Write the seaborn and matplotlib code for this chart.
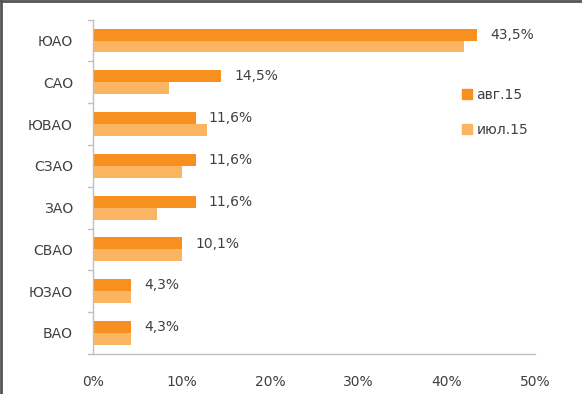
import matplotlib
matplotlib.use("Agg")
import matplotlib.pyplot as plt
import pandas as pd
import seaborn as sns
from matplotlib.lines import Line2D

# ---------- data ----------
districts = ["ЮАО", "САО", "ЮВАО", "СЗАО", "ЗАО", "СВАО", "ЮЗАО", "ВАО"]
aug_15 = [43.5, 14.5, 11.6, 11.6, 11.6, 10.1, 4.3, 4.3]
jul_15 = [42.0, 8.6, 12.9, 10.1, 7.2, 10.1, 4.3, 4.3]
series = ["авг.15", "июл.15"]
x_ticks = [0, 10, 20, 30, 40, 50]

colors = {"авг.15": "#F7901E", "июл.15": "#FBB462"}
text_col = "#404040"
axis_col = "#BFBFBF"

df = pd.concat([
    pd.DataFrame({"district": districts, "value": aug_15, "series": series[0]}),
    pd.DataFrame({"district": districts, "value": jul_15, "series": series[1]}),
])

sns.set_style("white")
plt.rcParams["font.family"] = ["DejaVu Sans"]

fig = plt.figure(figsize=(5.82, 3.94), dpi=100)
ax = fig.add_axes([0.16, 0.102, 0.759, 0.848])

sns.barplot(data=df, y="district", x="value", hue="series", order=districts,
            hue_order=series, palette=colors, orient="h", width=0.57,
            dodge=True, legend=False, ax=ax, saturation=1, linewidth=0)

# value labels for the August series
for i, v in enumerate(aug_15):
    ax.text(v + 1.5, i - 0.14, f"{v:.1f}%".replace(".", ","), va="center",
            ha="left", fontsize=10, color=text_col)

ax.set_xlim(0, 50)
ax.set_ylim(len(districts) - 0.5, -0.5)
ax.set_xticks(x_ticks)
ax.set_xticklabels([f"{t}%" for t in x_ticks], fontsize=10, color=text_col)
ax.set_yticks(range(len(districts)))
ax.set_yticklabels(districts, fontsize=10, color=text_col)
ax.tick_params(axis="y", length=0, pad=14.5)
ax.tick_params(axis="x", length=4, color=axis_col, direction="out", pad=11.5)
ax.set_xlabel("")
ax.set_ylabel("")

# category separator ticks on the y axis
for b in [k - 0.5 for k in range(len(districts) + 1)]:
    ax.plot([-0.6, 0], [b, b], color=axis_col, lw=1, clip_on=False)

for s in ["top", "right"]:
    ax.spines[s].set_visible(False)
for s in ["left", "bottom"]:
    ax.spines[s].set_color(axis_col)
    ax.spines[s].set_linewidth(1)

handles = [Line2D([], [], marker="s", ls="", markersize=7,
                  markerfacecolor=colors[s], markeredgecolor=colors[s]) for s in series]
ax.legend(handles, series, loc="upper left", bbox_to_anchor=(0.805, 0.832),
          frameon=False, fontsize=10, labelcolor=text_col, handlelength=0.8,
          handletextpad=0.3, labelspacing=1.5)

# dark frame at left and top of the image
fig.add_artist(Line2D([0.002, 0.002], [0, 1], color="#555555", lw=2, transform=fig.transFigure))
fig.add_artist(Line2D([0, 1], [0.997, 0.997], color="#555555", lw=2, transform=fig.transFigure))

fig.savefig("out.png", dpi=100)
